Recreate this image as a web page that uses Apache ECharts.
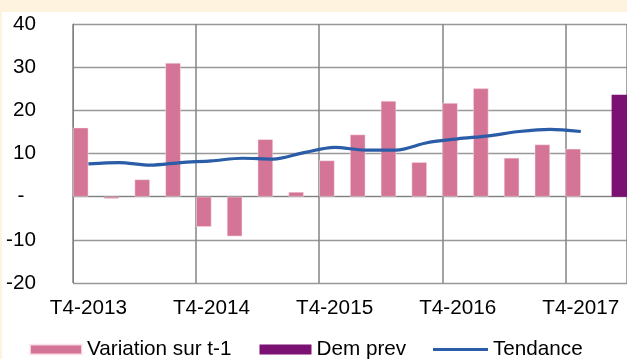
<!DOCTYPE html>
<html>
<head>
<meta charset="utf-8">
<script src="https://cdn.jsdelivr.net/npm/echarts@6/dist/echarts.min.js"></script>
<style>
  html, body { margin: 0; padding: 0; background: #FEF3DE; }
  #chart { width: 627px; height: 359px; }
</style>
</head>
<body>
<div id="chart"></div>
<script>
// Quarterly series: quarter-on-quarter change, forecast demand, trend
const categories = [
  'T4-2013', 'T1-2014', 'T2-2014', 'T3-2014',
  'T4-2014', 'T1-2015', 'T2-2015', 'T3-2015',
  'T4-2015', 'T1-2016', 'T2-2016', 'T3-2016',
  'T4-2016', 'T1-2017', 'T2-2017', 'T3-2017',
  'T4-2017', 'T1-2018'
];
const variation = [16.0, -0.5, 4.0, 31.0, -7.0, -9.2, 13.3, 1.1, 8.4, 14.4, 22.2, 8.0, 21.7, 25.1, 9.0, 12.1, 11.1, null];
const demPrev = [null, null, null, null, null, null, null, null, null, null, null, null, null, null, null, null, null, 23.6];
const tendance = [7.6, 7.9, 7.3, 7.9, 8.3, 8.9, 8.7, 10.2, 11.4, 10.8, 10.8, 12.5, 13.4, 14.1, 15.1, 15.6, 15.1, null];
const yTicks = { min: -20, max: 40, step: 10 };

const FONT = 'Liberation Sans, Arial, sans-serif';
const FS = 20.7;
const legendText = { fontFamily: FONT, fontSize: FS, color: '#000' };

const chart = echarts.init(document.getElementById('chart'), null, { renderer: 'canvas' });
chart.setOption({
  backgroundColor: '#FEF3DE',
  animation: false,
  graphic: [{
    type: 'rect', z: -10, silent: true,
    shape: { x: 2, y: 12, width: 625, height: 347 },
    style: { fill: '#FFFFFF' }
  }],
  grid: { left: 73, top: 24, bottom: 76, width: 558, containLabel: false },
  legend: [
    {
      left: 29, top: 339, padding: 0,
      itemWidth: 52, itemHeight: 10, itemGap: 28,
      textStyle: legendText,
      data: [
        { name: 'Variation sur t-1', icon: 'rect' },
        { name: 'Dem prev', icon: 'rect' }
      ]
    },
    {
      left: 433, top: 339, padding: 0,
      itemWidth: 55, itemHeight: 3,
      textStyle: legendText,
      data: [{ name: 'Tendance', icon: 'rect' }]
    }
  ],
  xAxis: {
    type: 'category',
    data: categories,
    boundaryGap: true,
    axisTick: { show: false },
    axisLine: { show: true, onZero: true, lineStyle: { color: '#7f7f7f', width: 1 } },
    axisLabel: {
      interval: 3, margin: 15,
      fontFamily: FONT, fontSize: FS, color: '#000'
    },
    splitLine: { show: true, interval: 3, lineStyle: { color: '#858585', width: 1.5 } }
  },
  yAxis: {
    type: 'value',
    min: yTicks.min, max: yTicks.max, interval: yTicks.step,
    axisLine: { show: true, lineStyle: { color: '#7f7f7f', width: 1 } },
    axisTick: { show: false },
    axisLabel: {
      margin: 37,
      fontFamily: FONT, fontSize: FS, color: '#000',
      formatter: v => (v === 0 ? '-  ' : String(v))
    },
    splitLine: { show: true, lineStyle: { color: '#999999', width: 1.3 } }
  },
  series: [
    {
      name: 'Variation sur t-1', type: 'bar',
      data: variation,
      barGap: '0%', barCategoryGap: '0%',
      itemStyle: { color: '#D47597', borderColor: 'rgba(255,235,240,0.8)', borderWidth: 0.6 }
    },
    {
      name: 'Dem prev', type: 'bar',
      data: demPrev,
      barGap: '0%', barCategoryGap: '0%',
      itemStyle: { color: '#7B1173' }
    },
    {
      name: 'Tendance', type: 'line',
      data: tendance,
      smooth: 0.3,
      symbol: 'none',
      z: 5,
      lineStyle: { color: '#2A5CA8', width: 3.2 },
      itemStyle: { color: '#2A5CA8' }
    }
  ]
});
</script>
</body>
</html>
